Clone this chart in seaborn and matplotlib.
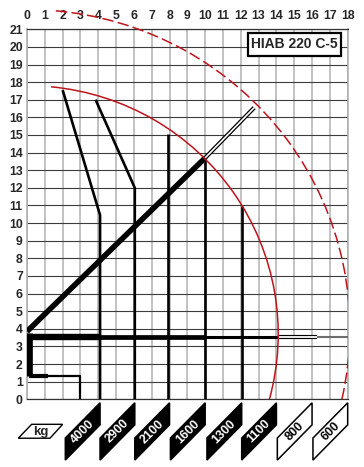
#!/usr/bin/env python3
# -*- coding: utf-8 -*-
"""
plot.py

Purpose:
    Load chart of the HIAB 220 C-5 crane
"""
###########################################################
### Imports
import seaborn as sns
import matplotlib.pyplot as plt
from matplotlib.patches import Arc, Polygon, Rectangle

###########################################################
### Data
x_ticks = list(range(0, 19))
y_ticks = list(range(0, 22))

# load curves (reach, height)
curve_4000_x = [2.0, 4.1, 4.1]
curve_4000_y = [17.55, 10.45, 0.0]
curve_2900_x = [3.85, 6.05, 6.05]
curve_2900_y = [17.0, 12.0, 0.0]
curve_2100_x = [7.9, 7.9]
curve_2100_y = [15.05, 0.0]
curve_1600_x = [10.0, 10.0]
curve_1600_y = [13.7, 0.0]
curve_1300_x = [12.05, 12.05]
curve_1300_y = [10.95, 0.0]

# crane outline
boom_x = [0.0, 10.0]
boom_y = [3.85, 13.7]
boom_ext_x = [10.0, 12.75]
boom_ext_y = [13.7, 16.55]
jib_x = [0.0, 4.1, 10.0, 14.1, 16.3, 18.0]
jib_y = 3.56
column_x = [0.13, 0.13]
column_y = [3.75, 1.3]
base_x = [0.13, 1.2, 2.95, 2.95]
base_y = [1.3, 1.3, 1.3, 0.0]

# reach circles: centre x, centre y, radius, start angle, end angle
inner_arc = (0.0, 3.7, 14.1, -15.2, 84.5)
outer_arc = (0.0, 4.0, 18.12, -12.75, 85.4)

# load labels under the chart
load_labels = ['4000', '2900', '2100', '1600', '1300', '1100', '800', '600']
load_x = [4.1, 6.05, 8.0, 10.0, 12.05, 14.0, 16.0, 18.0]
load_filled = [True, True, True, True, True, True, False, False]

title = 'HIAB 220 C-5'

###########################################################
### main
def main():
    sns.set_style('white')
    plt.rcParams['font.family'] = ['Liberation Sans', 'DejaVu Sans']

    fig = plt.figure(figsize=(3.64, 4.67), dpi=100)
    ax = fig.add_axes([0.0742, 0.1450, 0.881, 0.7923])
    ax.set_xlim(0, 18)
    ax.set_ylim(0, 21)

    # grid
    ax.set_xticks(x_ticks)
    ax.set_yticks(y_ticks)
    ax.xaxis.tick_top()
    ax.tick_params(length=0, labelsize=8.8)
    ax.tick_params(axis='x', pad=5.5)
    ax.tick_params(axis='y', pad=3.0)
    for lab in ax.get_xticklabels() + ax.get_yticklabels():
        lab.set_fontweight('bold')
    ax.set_axisbelow(True)
    ax.grid(axis='x', color='#b8b8b8', lw=1.2)
    ax.grid(axis='y', color='#3c3c3c', lw=0.8)
    for side in ['top', 'bottom']:
        ax.spines[side].set_color('#333333')
        ax.spines[side].set_linewidth(0.9)
    for side in ['left', 'right']:
        ax.spines[side].set_color('#b0b0b0')
        ax.spines[side].set_linewidth(1.2)

    def line(x, y, lw, color='black', z=3):
        sns.lineplot(x=x, y=y, sort=False, estimator=None, color=color,
                     lw=lw, ax=ax, zorder=z, solid_capstyle='butt')

    # reach circles
    cx, cy, r, t1, t2 = inner_arc
    ax.add_patch(Arc((cx, cy), 2 * r, 2 * r, theta1=t1, theta2=t2,
                     color='#c0141c', lw=1.1, zorder=4))
    cx, cy, r, t1, t2 = outer_arc
    arc = Arc((cx, cy), 2 * r, 2 * r, theta1=t1, theta2=t2, color='#c0141c',
              lw=1.1, ls=(0, (7.5, 2.8)), zorder=4)
    ax.add_patch(arc)
    arc.set_clip_path(Rectangle((-1, -1), 19, 25, transform=ax.transData))

    # load curves
    for xs, ys in [(curve_4000_x, curve_4000_y), (curve_2900_x, curve_2900_y),
                   (curve_2100_x, curve_2100_y), (curve_1600_x, curve_1600_y),
                   (curve_1300_x, curve_1300_y)]:
        line(xs, ys, 1.9)

    # boom
    line(boom_x, boom_y, 4.0)
    line(boom_ext_x, boom_ext_y, 3.0)
    line(boom_ext_x, boom_ext_y, 1.2, color='white', z=3.5)

    # jib
    jib_w = [4.6, 3.4, 2.2, 3.0, 1.5]
    for i in range(len(jib_w)):
        seg_x = jib_x[i:i + 2]
        seg_y = [jib_y, jib_y]
        if i == 3:
            line(seg_x, seg_y, 3.0)
            line(seg_x, seg_y, 1.3, color='white', z=3.5)
        elif i == 4:
            line(seg_x, seg_y, 1.5, color='#6e6e6e')
        else:
            line(seg_x, seg_y, jib_w[i])

    # column and base
    line(column_x, column_y, 4.8)
    line(base_x[:2], base_y[:2], 3.0)
    line(base_x[1:], base_y[1:], 1.6)

    # title box
    ax.add_patch(Rectangle((12.4, 19.5), 5.2, 1.3, facecolor='white',
                           edgecolor='black', lw=1.6, zorder=5))
    ax.text(15.0, 20.15, title, ha='center', va='center', fontsize=10,
            fontweight='bold', zorder=6)

    # load labels below the axis
    w = 1.95
    for lab, k, filled in zip(load_labels, load_x, load_filled):
        pts = [(k - w, -3.45), (k - w, -2.2), (k, -0.2), (k, -1.45)]
        fc = 'black' if filled else 'white'
        tc = 'white' if filled else 'black'
        ax.add_patch(Polygon(pts, closed=True, facecolor=fc, edgecolor='black',
                             lw=1.1, clip_on=False, zorder=5))
        ax.text(k - w / 2, -1.83, lab, ha='center', va='center', rotation=45,
                rotation_mode='anchor', color=tc, fontsize=9,
                fontweight='bold', clip_on=False, zorder=6)

    kg = [(-0.49, -2.21), (0.26, -1.42), (2.0, -1.42), (1.29, -2.21)]
    ax.add_patch(Polygon(kg, closed=True, facecolor='white', edgecolor='black',
                         lw=1.0, clip_on=False, zorder=5))
    ax.text(0.77, -1.83, 'kg', ha='center', va='center', fontsize=9.5,
            fontweight='bold', clip_on=False, zorder=6)

    plt.savefig('out.png', dpi=100)


###########################################################
### start main
if __name__ == "__main__":
    main()
